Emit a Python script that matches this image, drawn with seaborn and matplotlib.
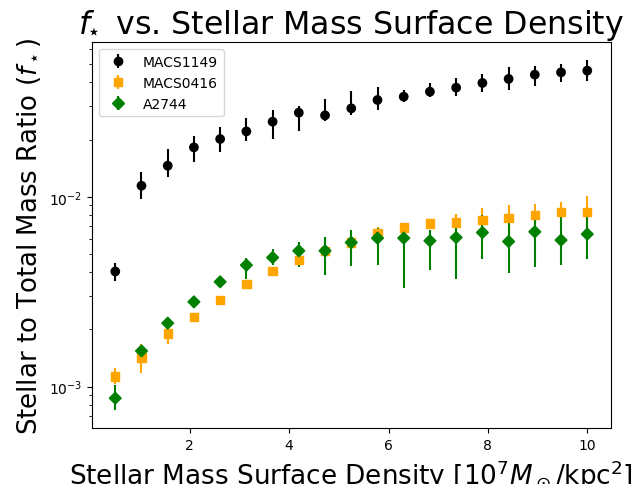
import numpy as np
import pandas as pd
import matplotlib
matplotlib.use("Agg")
import matplotlib.pyplot as plt
import seaborn as sns

# ---- data ----
density = [0.5, 1.028, 1.556, 2.083, 2.611, 3.139, 3.667, 4.194, 4.722, 5.25,
           5.778, 6.306, 6.833, 7.361, 7.889, 8.417, 8.944, 9.472, 10.0]

macs1149 = [0.00404, 0.01143, 0.01457, 0.0182, 0.02014, 0.02209, 0.02485, 0.02772,
            0.02683, 0.02921, 0.03234, 0.03365, 0.03576, 0.03754, 0.03975, 0.04174,
            0.04397, 0.04521, 0.04615]
macs1149_lo = [0.00046, 0.0017, 0.0018, 0.0029, 0.0029, 0.0025, 0.0046, 0.0055, 0.0019,
               0.0023, 0.0037, 0.0022, 0.0024, 0.0038, 0.0043, 0.0052, 0.0055, 0.0048, 0.0052]
macs1149_hi = [0.00043, 0.0020, 0.0033, 0.0028, 0.0033, 0.0039, 0.0039, 0.0025, 0.0059,
               0.0070, 0.0057, 0.0030, 0.0040, 0.0047, 0.0046, 0.0063, 0.0047, 0.0048, 0.0064]

macs0416 = [0.001129, 0.001422, 0.001903, 0.002331, 0.002864, 0.003466, 0.004073,
            0.004638, 0.005191, 0.005742, 0.006403, 0.006889, 0.007231, 0.007318,
            0.007535, 0.00772, 0.008006, 0.008335, 0.008335]
macs0416_lo = [0.0001, 0.00024, 0.00022, 0.0001, 0.0001, 0.00013, 0.00015, 0.0002, 0.0002,
               0.0002, 0.0005, 0.0003, 0.0003, 0.0008, 0.0012, 0.0013, 0.0012, 0.0011, 0.0017]
macs0416_hi = [0.00012, 0.00026, 0.00017, 0.0001, 0.0001, 0.00013, 0.00015, 0.0002, 0.0002,
               0.0002, 0.0005, 0.0003, 0.0003, 0.0008, 0.0012, 0.0013, 0.0012, 0.0011, 0.0017]

a2744 = [0.000869, 0.001542, 0.002159, 0.002795, 0.003564, 0.004365, 0.004786,
         0.005191, 0.005191, 0.005742, 0.006057, 0.006057, 0.005862, 0.006101,
         0.006481, 0.005812, 0.006537, 0.005911, 0.006357]
a2744_lo = [0.00012, 0.0001, 0.0001, 0.0001, 0.00015, 0.00068, 0.0004, 0.00092, 0.0013,
            0.0014, 0.00168, 0.00275, 0.00175, 0.0024, 0.0018, 0.00185, 0.00226, 0.00153, 0.00163]
a2744_hi = [0.00015, 0.0001, 0.0001, 0.0001, 0.00015, 0.00039, 0.00055, 0.00062, 0.00096,
            0.00096, 0.00083, 0.0007, 0.0008, 0.0012, 0.0015, 0.0023, 0.0012, 0.0022, 0.0017]

clusters = ["MACS1149", "MACS0416", "A2744"]
colors = {"MACS1149": "black", "MACS0416": "orange", "A2744": "green"}
markers = {"MACS1149": "o", "MACS0416": "s", "A2744": "D"}

series = {
    "MACS1149": (macs1149, macs1149_lo, macs1149_hi),
    "MACS0416": (macs0416, macs0416_lo, macs0416_hi),
    "A2744": (a2744, a2744_lo, a2744_hi),
}

df = pd.concat([
    pd.DataFrame({"density": density, "ratio": vals, "lo": lo, "hi": hi, "cluster": name})
    for name, (vals, lo, hi) in series.items()
], ignore_index=True)

fig = plt.figure(figsize=(6.41, 4.85), dpi=100)
ax = fig.add_axes([0.143, 0.1155, 0.810, 0.795])

# error bars
for name in clusters:
    sub = df[df["cluster"] == name]
    ax.errorbar(sub["density"], sub["ratio"], yerr=[sub["lo"], sub["hi"]],
                fmt="none", ecolor=colors[name], elinewidth=1.5, zorder=2)

# markers via seaborn
sns.scatterplot(data=df, x="density", y="ratio", hue="cluster", style="cluster",
                hue_order=clusters, style_order=clusters,
                palette=colors, markers=markers, s=36, linewidth=1,
                edgecolor=None, legend=False, ax=ax, zorder=3)
for coll in ax.collections[3:]:
    coll.set_edgecolor(coll.get_facecolor())

ax.set_yscale("log")

# legend proxies (errorbar style handles)
handles = []
for name in clusters:
    h = ax.errorbar([], [], yerr=[], fmt=markers[name], color=colors[name],
                    markersize=6, label=name)
    handles.append(h)
ax.legend(handles=handles, labels=clusters, loc="upper left")

ax.set_title(r"$f_{\!\!\star}$ vs. Stellar Mass Surface Density", fontsize=22.8)
ax.set_xlabel(r"Stellar Mass Surface Density [$10^7 M_\odot$/kpc$^2$]", fontsize=18.9)
ax.set_ylabel(r"Stellar to Total Mass Ratio ($f_\star$)", fontsize=18.7)

fig.savefig("out.png", dpi=100)
